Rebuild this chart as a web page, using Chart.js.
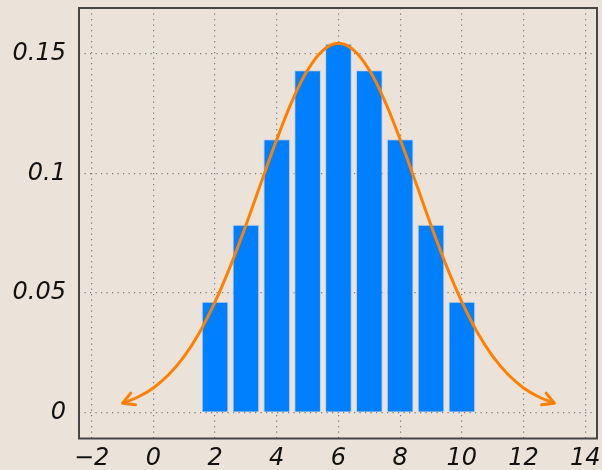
<!DOCTYPE html>
<html>
<head>
<meta charset="utf-8">
<script src="https://cdn.jsdelivr.net/npm/chart.js@4/dist/chart.umd.min.js"></script>
<style>
html,body{margin:0;padding:0;background:#ebe2d9;}
canvas{display:block;}
</style>
</head>
<body>
<canvas id="c" width="602" height="470"></canvas>
<script>
const barX = [2, 3, 4, 5, 6, 7, 8, 9, 10];
const barY = [0.0463, 0.0785, 0.1143, 0.1432, 0.1543, 0.1432, 0.1143, 0.0785, 0.0463];
const curveX = [-1, -0.5, 0, 0.5, 1, 1.5, 2, 2.5, 3, 3.5, 4, 4.5, 5, 5.5, 6,
                6.5, 7, 7.5, 8, 8.5, 9, 9.5, 10, 10.5, 11, 11.5, 12, 12.5, 13];
const curveY = [0.0038, 0.0064, 0.0102, 0.0158, 0.0234, 0.0335, 0.0462, 0.0613, 0.0783, 0.0964, 0.1142, 0.1304, 0.1433, 0.1516, 0.1545,
                0.1516, 0.1433, 0.1304, 0.1142, 0.0964, 0.0783, 0.0613, 0.0462, 0.0335, 0.0234, 0.0158, 0.0102, 0.0064, 0.0038];
const xTicks = [-2, 0, 2, 4, 6, 8, 10, 12, 14];
const yTicks = [0, 0.05, 0.1, 0.15];

const fmt = v => (v < 0 ? '\u2212' + String(-v) : String(v));

const framePlugin = {
  id: 'frame',
  afterDatasetsDraw(chart) {
    const ctx = chart.ctx;
    const meta = chart.getDatasetMeta(1);
    const pts = meta.data;
    const drawArrow = (tip, from) => {
      const dx = tip.x - from.x, dy = tip.y - from.y;
      const a = Math.atan2(dy, dx);
      const L = 13, s = 0.5;
      ctx.save();
      ctx.strokeStyle = '#ff8000';
      ctx.lineWidth = 3;
      ctx.lineCap = 'round';
      ctx.lineJoin = 'round';
      ctx.beginPath();
      ctx.moveTo(tip.x - L * Math.cos(a - s), tip.y - L * Math.sin(a - s));
      ctx.lineTo(tip.x, tip.y);
      ctx.lineTo(tip.x - L * Math.cos(a + s), tip.y - L * Math.sin(a + s));
      ctx.stroke();
      ctx.restore();
    };
    if (pts.length > 1) {
      drawArrow(pts[0], pts[1]);
      drawArrow(pts[pts.length - 1], pts[pts.length - 2]);
    }
    const ca = chart.chartArea;
    ctx.save();
    ctx.strokeStyle = '#454545';
    ctx.lineWidth = 2;
    ctx.strokeRect(ca.left, ca.top, ca.right - ca.left, ca.bottom - ca.top);
    ctx.restore();
  }
};

const gridStyle = {
  color: '#7d7d7d',
  lineWidth: 1.2,
  drawTicks: false
};

new Chart(document.getElementById('c'), {
  type: 'bar',
  data: {
    datasets: [
      {
        type: 'bar',
        data: barX.map((x, i) => ({ x: x, y: barY[i] })),
        backgroundColor: '#0080ff',
        borderColor: 'rgba(190,205,225,0.9)',
        borderWidth: 1,
        barPercentage: 0.865,
        categoryPercentage: 1,
        order: 2
      },
      {
        type: 'line',
        data: curveX.map((x, i) => ({ x: x, y: curveY[i] })),
        borderColor: '#ff8000',
        borderWidth: 3,
        pointRadius: 0,
        fill: false,
        tension: 0.4,
        order: 1
      }
    ]
  },
  options: {
    responsive: false,
    devicePixelRatio: 1,
    animation: false,
    layout: { padding: { left: 0, right: 5, top: 8, bottom: 0 } },
    plugins: { legend: { display: false }, tooltip: { enabled: false } },
    scales: {
      x: {
        type: 'linear',
        min: -2.41,
        max: 14.38,
        offset: false,
        grid: Object.assign({ offset: false }, gridStyle),
        border: { display: false, dash: [1.2, 4.3] },
        afterBuildTicks: s => { s.ticks = xTicks.map(v => ({ value: v })); },
        afterFit: s => { s.height = 31.5; s.paddingLeft = 0; s.paddingRight = 0; s.paddingTop = 0; s.paddingBottom = 0; },
        ticks: {
          autoSkip: false,
          maxRotation: 0,
          padding: 6,
          color: '#111',
          font: { family: 'DejaVu Sans', style: 'italic', size: 24 },
          callback: v => fmt(v)
        }
      },
      y: {
        min: -0.01098,
        max: 0.1693,
        grid: gridStyle,
        border: { display: false, dash: [1.2, 4.3] },
        afterBuildTicks: s => { s.ticks = yTicks.map(v => ({ value: v })); },
        afterFit: s => { s.width = 79; s.paddingLeft = 0; s.paddingRight = 0; s.paddingTop = 0; s.paddingBottom = 0; },
        ticks: {
          padding: 13,
          color: '#111',
          font: { family: 'DejaVu Sans', style: 'italic', size: 24 },
          callback: v => fmt(v)
        }
      }
    }
  },
  plugins: [framePlugin]
});
</script>
</body>
</html>
